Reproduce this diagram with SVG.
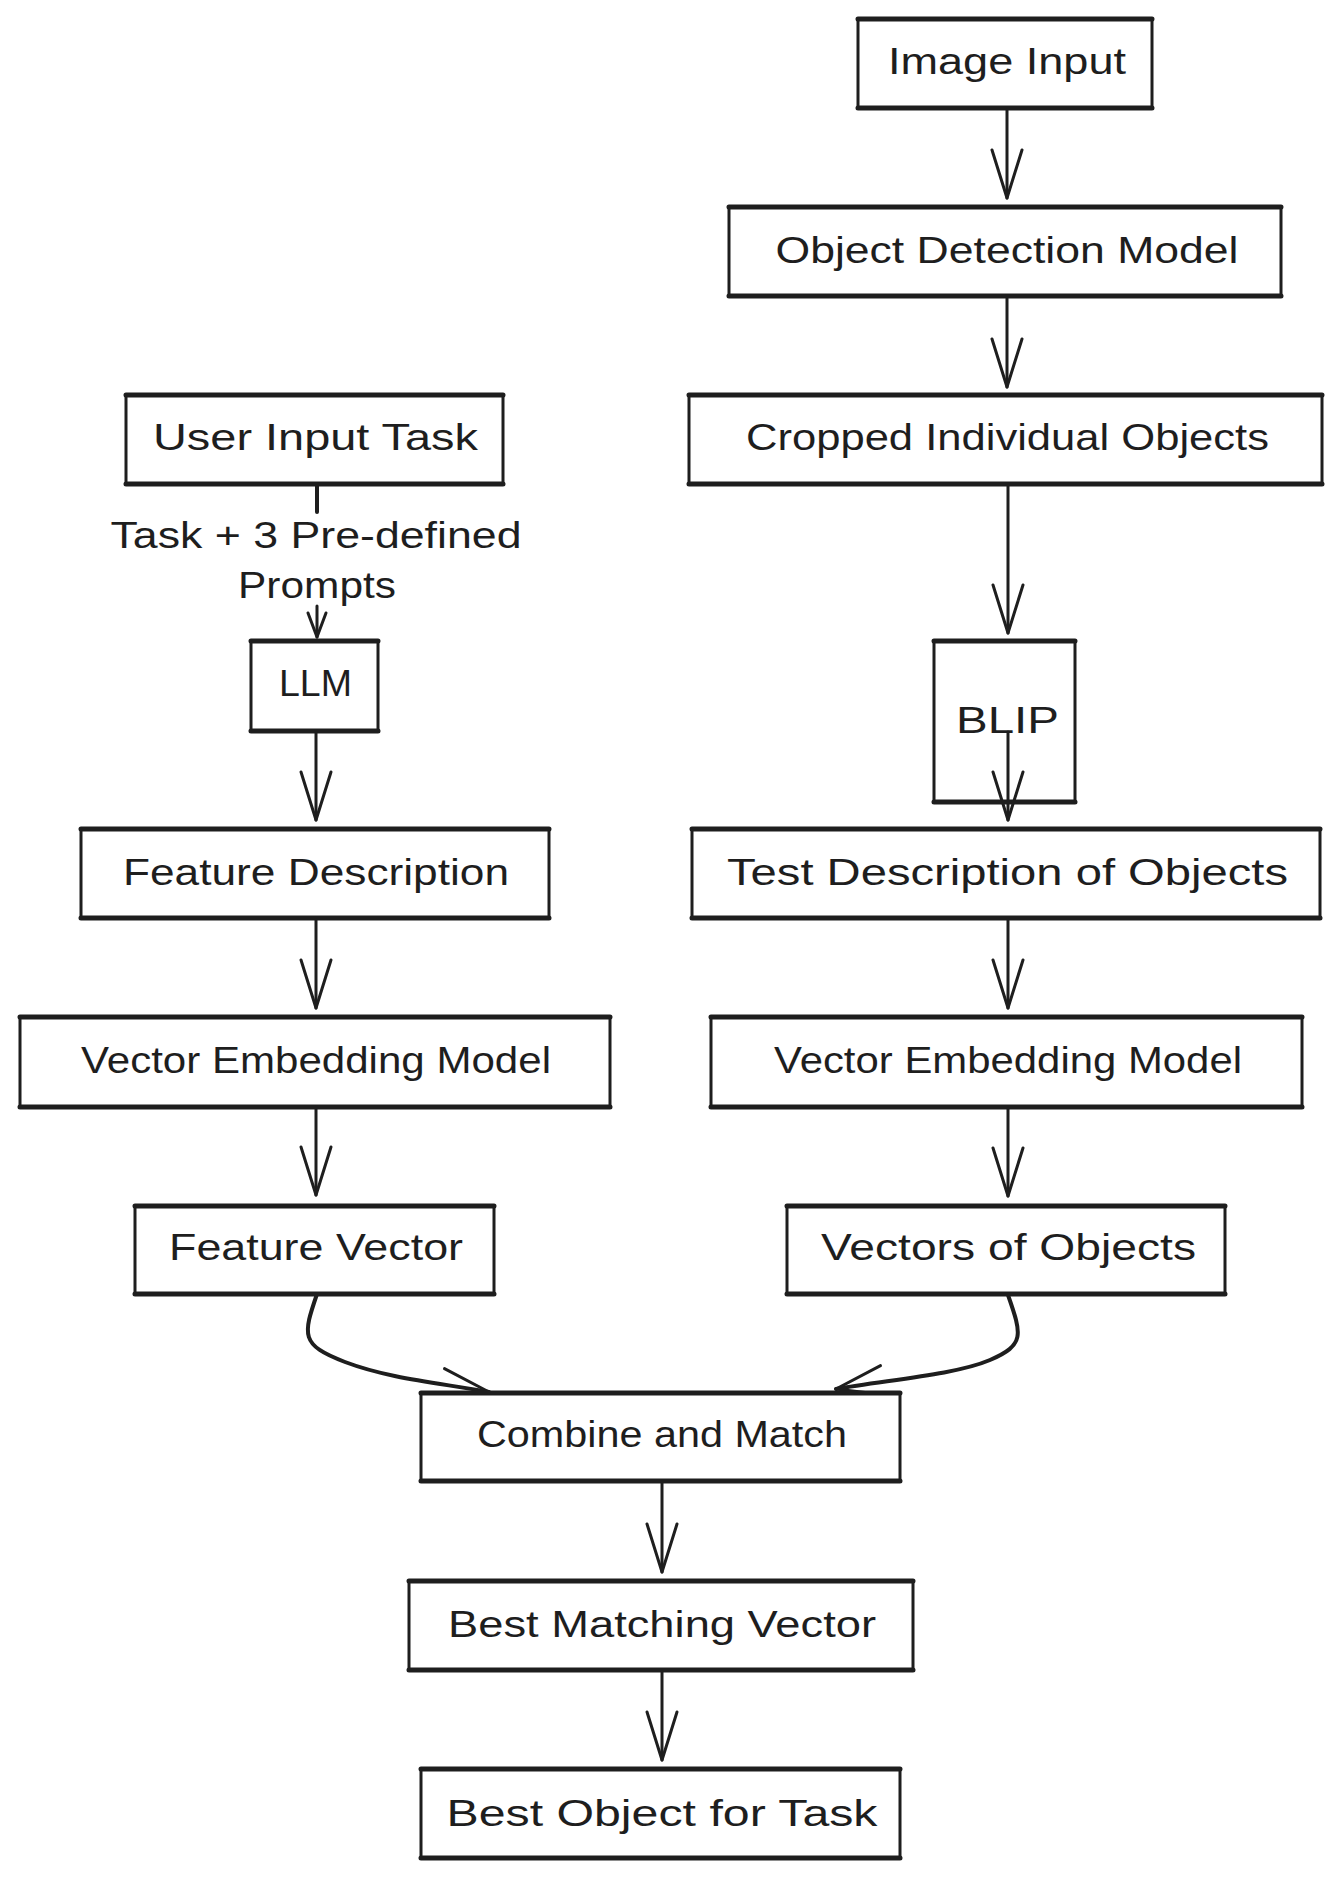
<svg xmlns="http://www.w3.org/2000/svg" width="1338" height="1878" viewBox="0 0 1338 1878">
<style>
.box{fill:#ffffff;stroke:#1e1e1e;stroke-width:3}
.edge{fill:none;stroke:#1e1e1e;stroke-width:5;stroke-linecap:round}
.lbl{font-family:"Liberation Sans",Arial,sans-serif;font-size:36px;fill:#1e1e1e;text-anchor:middle}
.conn{fill:none;stroke:#1e1e1e;stroke-width:3;stroke-linecap:round}
</style>
<defs>
<marker id="ah" markerUnits="userSpaceOnUse" markerWidth="60" markerHeight="40" refX="50" refY="20" orient="auto" viewBox="0 0 60 40" overflow="visible">
<path d="M2,5 L50,20 L2,35" fill="none" stroke="#1e1e1e" stroke-width="3" stroke-linecap="round" stroke-linejoin="round"/>
</marker>
<marker id="ahs" markerUnits="userSpaceOnUse" markerWidth="30" markerHeight="24" refX="26" refY="12" orient="auto" viewBox="0 0 30 24" overflow="visible">
<path d="M2,3 L26,12 L2,21" fill="none" stroke="#1e1e1e" stroke-width="3" stroke-linecap="round" stroke-linejoin="round"/>
</marker>
</defs>
<rect width="1338" height="1878" fill="#ffffff"/>

<g id="connectors">
<path class="conn" d="M1007,108 V198" marker-end="url(#ah)"/>
<path class="conn" d="M1007,296 V387" marker-end="url(#ah)"/>
<path class="conn" d="M1008,484 V633" marker-end="url(#ah)"/>
<path class="conn" d="M1008,732 V820" marker-end="url(#ah)"/>
<path class="conn" d="M317,484 V512" style="stroke-width:4"/>
<path class="conn" d="M317,606 V637" marker-end="url(#ahs)"/>
<path class="conn" d="M316,731 V820" marker-end="url(#ah)"/>
<path class="conn" d="M316,918 V1008" marker-end="url(#ah)"/>
<path class="conn" d="M1008,918 V1008" marker-end="url(#ah)"/>
<path class="conn" d="M316,1107 V1195" marker-end="url(#ah)"/>
<path class="conn" d="M1008,1107 V1196" marker-end="url(#ah)"/>
<path class="conn" d="M317,1294 C303,1335 300,1345 345,1362 S440,1383 489,1392" style="stroke-width:4" marker-end="url(#ah)"/>
<path class="conn" d="M1008,1295 C1022,1335 1025,1345 990,1360 S885,1380 836,1389" style="stroke-width:4" marker-end="url(#ah)"/>
<path class="conn" d="M662,1481 V1572" marker-end="url(#ah)"/>
<path class="conn" d="M662,1670 V1760" marker-end="url(#ah)"/>
<text class="lbl" x="316" y="548" textLength="411" lengthAdjust="spacingAndGlyphs">Task + 3 Pre-defined</text>
<text class="lbl" x="317" y="598" textLength="158" lengthAdjust="spacingAndGlyphs">Prompts</text>
</g>

<g id="image_input">
<rect class="box" x="858" y="19" width="294" height="89"/>
<path class="edge" d="M858,19 H1152 M858,108 H1152"/>
<text class="lbl" x="1007" y="74" textLength="238" lengthAdjust="spacingAndGlyphs">Image Input</text>
</g>
<g id="object_detection">
<rect class="box" x="729" y="207" width="552" height="89"/>
<path class="edge" d="M729,207 H1281 M729,296 H1281"/>
<text class="lbl" x="1007" y="263" textLength="463" lengthAdjust="spacingAndGlyphs">Object Detection Model</text>
</g>
<g id="cropped_objects">
<rect class="box" x="689" y="395" width="633" height="89"/>
<path class="edge" d="M689,395 H1322 M689,484 H1322"/>
<text class="lbl" x="1007.5" y="450" textLength="523" lengthAdjust="spacingAndGlyphs">Cropped Individual Objects</text>
</g>
<g id="user_input_task">
<rect class="box" x="126" y="395" width="377" height="89"/>
<path class="edge" d="M126,395 H503 M126,484 H503"/>
<text class="lbl" x="315.5" y="450" textLength="325" lengthAdjust="spacingAndGlyphs">User Input Task</text>
</g>
<g id="llm">
<rect class="box" x="251" y="641" width="127" height="90"/>
<path class="edge" d="M251,641 H378 M251,731 H378"/>
<text class="lbl" x="315.5" y="696" textLength="73" lengthAdjust="spacingAndGlyphs">LLM</text>
</g>
<g id="blip">
<rect class="box" x="934" y="641" width="141" height="161" style="fill:none"/>
<path class="edge" d="M934,641 H1075 M934,802 H1075"/>
<text class="lbl" x="1007.5" y="733" textLength="103" lengthAdjust="spacingAndGlyphs">BLIP</text>
</g>
<g id="feature_description">
<rect class="box" x="81" y="829" width="468" height="89"/>
<path class="edge" d="M81,829 H549 M81,918 H549"/>
<text class="lbl" x="316" y="885" textLength="386" lengthAdjust="spacingAndGlyphs">Feature Description</text>
</g>
<g id="test_description">
<rect class="box" x="692" y="829" width="628" height="89"/>
<path class="edge" d="M692,829 H1320 M692,918 H1320"/>
<text class="lbl" x="1007.5" y="885" textLength="561" lengthAdjust="spacingAndGlyphs">Test Description of Objects</text>
</g>
<g id="vector_embedding_left">
<rect class="box" x="20" y="1017" width="590" height="90"/>
<path class="edge" d="M20,1017 H610 M20,1107 H610"/>
<text class="lbl" x="316" y="1073" textLength="470" lengthAdjust="spacingAndGlyphs">Vector Embedding Model</text>
</g>
<g id="vector_embedding_right">
<rect class="box" x="711" y="1017" width="591" height="90"/>
<path class="edge" d="M711,1017 H1302 M711,1107 H1302"/>
<text class="lbl" x="1008" y="1073" textLength="468" lengthAdjust="spacingAndGlyphs">Vector Embedding Model</text>
</g>
<g id="feature_vector">
<rect class="box" x="135" y="1206" width="359" height="88"/>
<path class="edge" d="M135,1206 H494 M135,1294 H494"/>
<text class="lbl" x="316" y="1260" textLength="294" lengthAdjust="spacingAndGlyphs">Feature Vector</text>
</g>
<g id="vectors_of_objects">
<rect class="box" x="787" y="1206" width="438" height="88"/>
<path class="edge" d="M787,1206 H1225 M787,1294 H1225"/>
<text class="lbl" x="1008.5" y="1260" textLength="375" lengthAdjust="spacingAndGlyphs">Vectors of Objects</text>
</g>
<g id="combine_and_match">
<rect class="box" x="421" y="1393" width="479" height="88"/>
<path class="edge" d="M421,1393 H900 M421,1481 H900"/>
<text class="lbl" x="662" y="1447" textLength="370" lengthAdjust="spacingAndGlyphs">Combine and Match</text>
</g>
<g id="best_matching_vector">
<rect class="box" x="409" y="1581" width="504" height="89"/>
<path class="edge" d="M409,1581 H913 M409,1670 H913"/>
<text class="lbl" x="662" y="1637" textLength="428" lengthAdjust="spacingAndGlyphs">Best Matching Vector</text>
</g>
<g id="best_object_for_task">
<rect class="box" x="421" y="1769" width="479" height="89"/>
<path class="edge" d="M421,1769 H900 M421,1858 H900"/>
<text class="lbl" x="662" y="1826" textLength="431" lengthAdjust="spacingAndGlyphs">Best Object for Task</text>
</g>
</svg>
